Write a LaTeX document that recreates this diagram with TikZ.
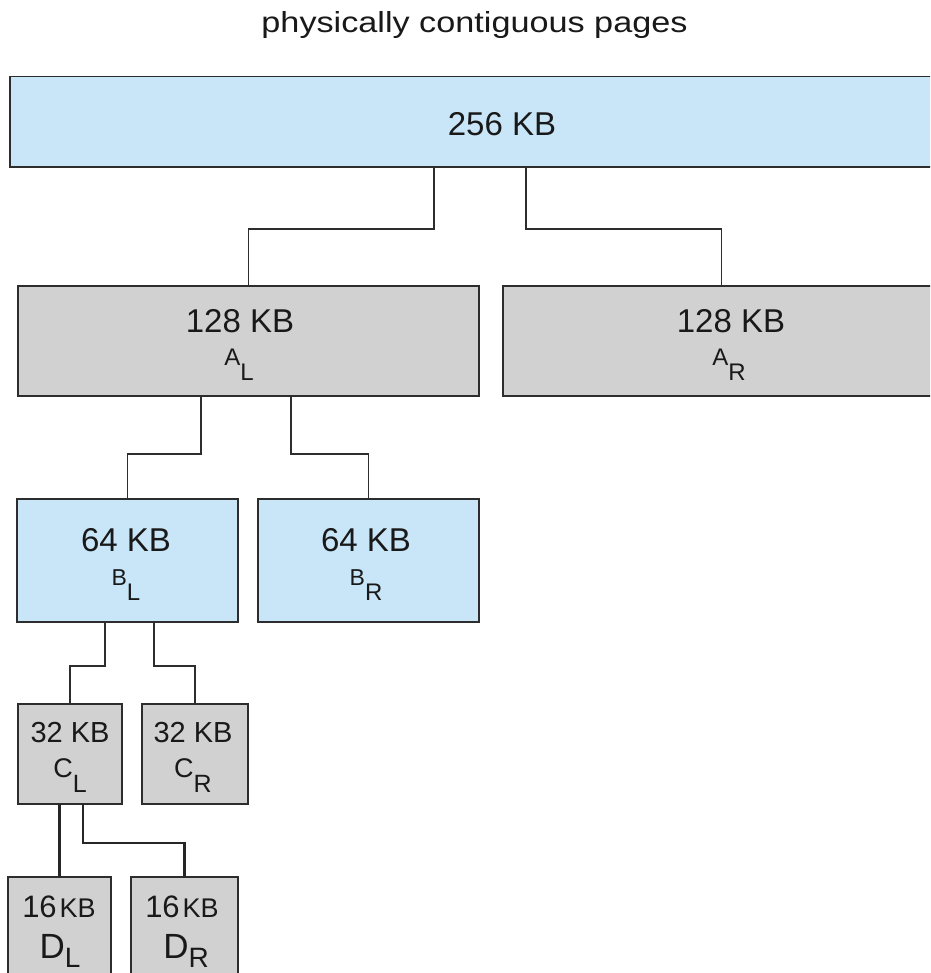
\documentclass[tikz,border=0pt]{standalone}
\usepackage{fontspec}
\setmainfont{Liberation Sans}
\definecolor{boxblue}{RGB}{200,230,248}
\definecolor{boxgray}{RGB}{209,209,209}
\definecolor{edgec}{RGB}{45,45,45}
\newcommand{\fs}[1]{\fontsize{#1}{#1}\selectfont}
\newcommand{\subl}[5]{{\fs{#1}#2}\raisebox{-#5pt}{\fs{#3}#4}}
\tikzset{
  box/.style={draw=edgec, line width=1.4pt, rectangle, inner sep=0pt, outer sep=0pt},
  bluebox/.style={box, fill=boxblue},
  graybox/.style={box, fill=boxgray},
  conn/.style={draw=edgec, line width=1.4pt},
  thickconn/.style={draw=black!85, line width=2.4pt},
  lab/.style={anchor=base, inner sep=0pt, text=black!90}
}
\begin{document}
\begin{tikzpicture}[x=1pt,y=-1pt]
\clip (0,0) rectangle (930,973);
\fill[white] (0,0) rectangle (930,973);

% title
\node[lab] (title) at (474.5,33) {\scalebox{1.18}[1]{\fs{29}physically contiguous pages}};

% boxes
\node[bluebox, minimum width=930pt, minimum height=90.5pt] (top) at (475,121.75) {};
\node[graybox, minimum width=461pt, minimum height=110pt] (AL) at (248.5,341) {};
\node[graybox, minimum width=437pt, minimum height=110pt] (AR) at (721.5,341) {};
\node[bluebox, minimum width=221pt, minimum height=123pt] (BL) at (127.5,560.5) {};
\node[bluebox, minimum width=221pt, minimum height=123pt] (BR) at (368.5,560.5) {};
\node[graybox, minimum width=104pt, minimum height=100pt] (CL) at (70,754) {};
\node[graybox, minimum width=106pt, minimum height=100pt] (CR) at (195,754) {};
\node[graybox, minimum width=103pt, minimum height=113pt] (DL) at (59.5,933.5) {};
\node[graybox, minimum width=107pt, minimum height=113pt] (DR) at (184.5,933.5) {};

% labels
\node[lab] (ttop) at (502,136) {\fs{33}256 KB};
\node[lab] (tAL) at (240,332) {\fs{33}128 KB};
\node[lab] (sAL) at (239,365) {\subl{24}{A}{24}{L}{15}};
\node[lab] (tAR) at (731,332) {\fs{33}128 KB};
\node[lab] (sAR) at (729,365) {\subl{24}{A}{24}{R}{15}};
\node[lab] (tBL) at (126,551) {\fs{33}64 KB};
\node[lab] (sBL) at (126,585) {\subl{23}{B}{24}{L}{15}};
\node[lab] (tBR) at (366,551) {\fs{33}64 KB};
\node[lab] (sBR) at (366,585) {\subl{23}{B}{24}{R}{15}};
\node[lab] (tCL) at (70,742) {\fs{29}32 KB};
\node[lab] (sCL) at (70,777) {\subl{27}{C}{25}{L}{15}};
\node[lab] (tCR) at (193,742) {\fs{29}32 KB};
\node[lab] (sCR) at (193,777) {\subl{27}{C}{25}{R}{15}};
\node[lab] (tDL) at (59,917) {{\fs{31}16}\hspace{3pt}{\fs{27}KB}};
\node[lab] (sDL) at (60,958) {\subl{35}{D}{28}{L}{9}};
\node[lab] (tDR) at (182,917) {{\fs{31}16}\hspace{3pt}{\fs{27}KB}};
\node[lab] (sDR) at (186,958) {\subl{35}{D}{28}{R}{9}};

% connector turning points
\coordinate (t1) at (434,229);
\coordinate (t2) at (526,229);
\coordinate (a1) at (201,454);
\coordinate (a2) at (291,454);
\coordinate (b1) at (105,666);
\coordinate (b2) at (154,666);
\coordinate (c2) at (83,843);

\draw[conn] (t1 |- top.south) -- (t1) -| (AL.north);
\draw[conn] (t2 |- top.south) -- (t2) -| (AR.north);
\draw[conn] (a1 |- AL.south) -- (a1) -| (BL.north);
\draw[conn] (a2 |- AL.south) -- (a2) -| (BR.north);
\draw[conn] (b1 |- BL.south) -- (b1) -| (CL.north);
\draw[conn] (b2 |- BL.south) -- (b2) -| (CR.north);
\draw[thickconn] (DL.north |- CL.south) -- (DL.north);
\draw[thickconn] (c2 |- CL.south) -- (c2) -| (DR.north);
\end{tikzpicture}
\end{document}
